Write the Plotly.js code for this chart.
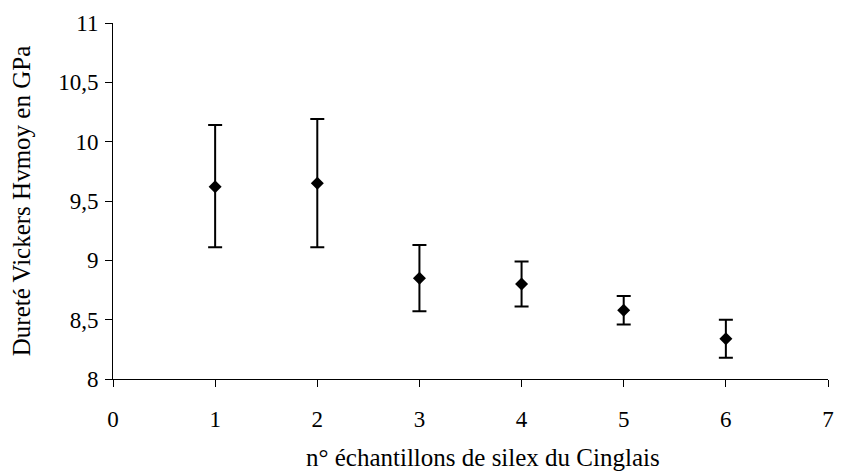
<!DOCTYPE html>
<html>
<head>
<meta charset="utf-8">
<script src="https://cdn.plot.ly/plotly-3.0.1.min.js"></script>
<style>html,body{margin:0;padding:0;background:#fff;}#chart{width:861px;height:473px;}</style>
</head>
<body>
<div id="chart"></div>
<script>
var samples = [1, 2, 3, 4, 5, 6];
var hvMean = [9.62, 9.65, 8.85, 8.80, 8.58, 8.34];
var hvUpper = [10.14, 10.19, 9.13, 8.99, 8.70, 8.50];
var hvLower = [9.11, 9.11, 8.57, 8.61, 8.46, 8.18];
var xTicks = [0, 1, 2, 3, 4, 5, 6, 7];
var yTicks = [8, 8.5, 9, 9.5, 10, 10.5, 11];
var xTitle = 'n° échantillons de silex du Cinglais';
var yTitle = 'Dureté Vickers Hvmoy en GPa';

var plus = hvMean.map(function (m, i) { return hvUpper[i] - m; });
var minus = hvMean.map(function (m, i) { return m - hvLower[i]; });

var font = '"Liberation Serif", "Times New Roman", serif';

var trace = {
  x: samples,
  y: hvMean,
  type: 'scatter',
  mode: 'markers',
  marker: { symbol: 'diamond', size: 10, color: '#000' },
  error_y: {
    type: 'data', symmetric: false, array: plus, arrayminus: minus,
    color: '#000', thickness: 2, width: 7
  },
  hoverinfo: 'x+y'
};

var layout = {
  width: 861, height: 473,
  margin: { l: 113, r: 33, t: 23, b: 94 },
  paper_bgcolor: '#fff', plot_bgcolor: '#fff',
  separators: ', ',
  showlegend: false,
  font: { family: font, size: 23, color: '#000' },
  xaxis: {
    range: [0, 7], tickvals: xTicks, ticktext: xTicks.map(String),
    showgrid: false, zeroline: false, showline: true, linecolor: '#000', linewidth: 1,
    ticks: 'outside', ticklen: 7, tickcolor: '#000',
    ticklabelstandoff: 12,
    tickfont: { family: font, size: 23, color: '#000' }
  },
  yaxis: {
    range: [8, 11], tickvals: yTicks,
    showgrid: false, zeroline: false, showline: true, linecolor: '#000', linewidth: 1,
    ticks: 'outside', ticklen: 7, tickcolor: '#000',
    ticklabelstandoff: 2,
    tickfont: { family: font, size: 23, color: '#000' },
    title: { text: yTitle, font: { family: font, size: 25, color: '#000' }, standoff: 20 }
  },
  annotations: [{
    text: xTitle, xref: 'paper', yref: 'paper',
    x: 0.5175, y: 0, xanchor: 'center', yanchor: 'top', yshift: -63,
    showarrow: false, font: { family: font, size: 25, color: '#000' }
  }]
};

Plotly.newPlot('chart', [trace], layout, { displayModeBar: false, staticPlot: true });
</script>
</body>
</html>
